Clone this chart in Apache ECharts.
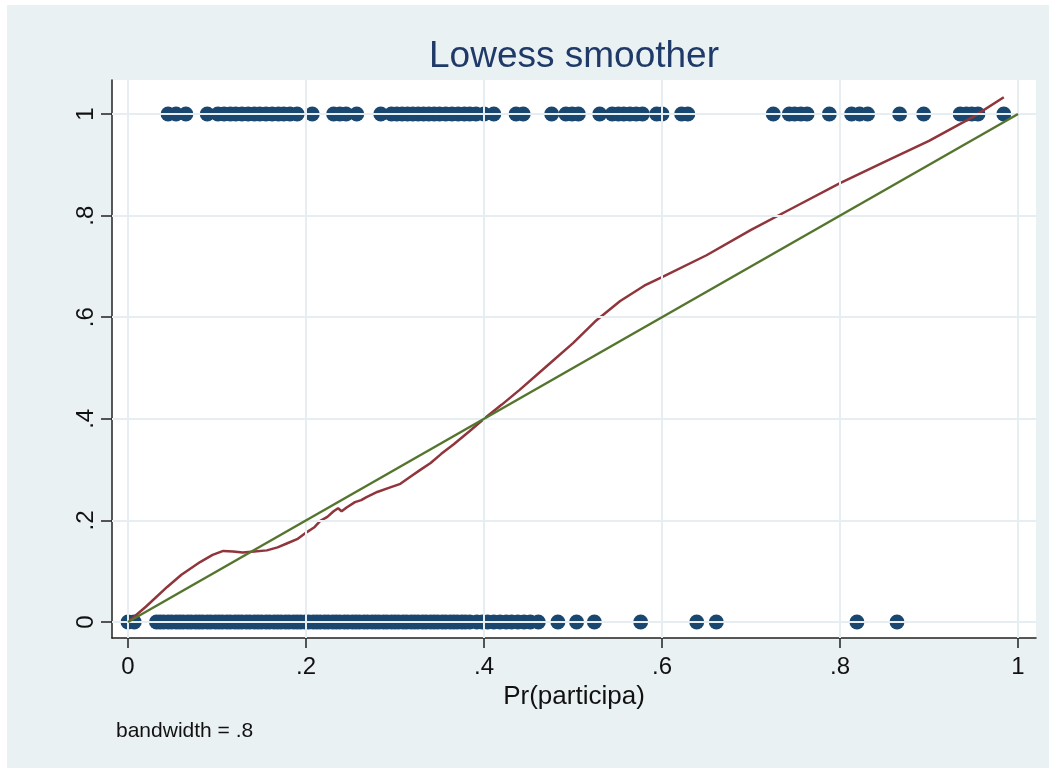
<!DOCTYPE html>
<html>
<head>
<meta charset="utf-8">
<script src="https://cdn.jsdelivr.net/npm/echarts@6/dist/echarts.min.js"></script>
<style>
html,body{margin:0;padding:0;background:#ffffff;}
#chart{width:1049px;height:770px;}
</style>
</head>
<body>
<div id="chart"></div>
<script>
// ---- data ----
var tickValues = [0, 0.2, 0.4, 0.6, 0.8, 1];
var xTickLabels = ['0', '.2', '.4', '.6', '.8', '1'];
var yTickLabels = ['0', '.2', '.4', '.6', '.8', '1'];

// observed outcome = 1 : predicted probabilities
var xAtOne = [0.045, 0.054, 0.065, 0.089, 0.101, 0.108, 0.115, 0.121, 0.128, 0.135, 0.142, 0.148,
  0.155, 0.162, 0.169, 0.175, 0.182, 0.190, 0.207, 0.231, 0.238, 0.245, 0.257, 0.284, 0.296,
  0.302, 0.308, 0.314, 0.320, 0.326, 0.332, 0.338, 0.344, 0.350, 0.357, 0.364, 0.371, 0.378,
  0.384, 0.391, 0.400, 0.411, 0.436, 0.444, 0.476, 0.492, 0.499, 0.506, 0.530, 0.544, 0.551,
  0.557, 0.564, 0.571, 0.578, 0.594, 0.600, 0.622, 0.629, 0.725, 0.743, 0.749, 0.756, 0.763,
  0.788, 0.813, 0.822, 0.831, 0.867, 0.894, 0.935, 0.942, 0.948, 0.955, 0.984];

// observed outcome = 0 : predicted probabilities
var xAtZero = [0, 0.007, 0.032, 0.036, 0.040, 0.045, 0.049, 0.054, 0.058, 0.062, 0.067, 0.071,
  0.076, 0.080, 0.084, 0.089, 0.093, 0.098, 0.102, 0.106, 0.111, 0.115, 0.120, 0.124, 0.128,
  0.133, 0.137, 0.142, 0.146, 0.150, 0.155, 0.159, 0.164, 0.168, 0.172, 0.177, 0.181, 0.186,
  0.190, 0.194, 0.199, 0.203, 0.208, 0.212, 0.216, 0.221, 0.225, 0.230, 0.234, 0.238, 0.243,
  0.247, 0.252, 0.256, 0.260, 0.265, 0.269, 0.274, 0.278, 0.282, 0.287, 0.291, 0.296, 0.300,
  0.304, 0.309, 0.313, 0.318, 0.322, 0.326, 0.331, 0.335, 0.340, 0.344, 0.348, 0.353, 0.357,
  0.362, 0.366, 0.370, 0.375, 0.379, 0.384, 0.392, 0.398, 0.404, 0.411, 0.418, 0.425, 0.431,
  0.438, 0.445, 0.452, 0.461, 0.483, 0.504, 0.524, 0.576, 0.639, 0.661, 0.819, 0.864];

// lowess smoother (bandwidth .8)
var lowessX = [0, 0.02, 0.044, 0.06, 0.081, 0.095, 0.107, 0.118, 0.129, 0.142, 0.156, 0.168,
  0.179, 0.19, 0.201, 0.209, 0.216, 0.224, 0.231, 0.236, 0.24, 0.246, 0.255, 0.262, 0.268, 0.28,
  0.293, 0.306, 0.318, 0.328, 0.34, 0.352, 0.366, 0.384, 0.4, 0.42, 0.44, 0.47, 0.5, 0.525,
  0.553, 0.58, 0.6, 0.65, 0.7, 0.75, 0.8, 0.85, 0.9, 0.95, 0.984];
var lowessY = [0, 0.03, 0.069, 0.093, 0.118, 0.132, 0.140, 0.139, 0.137, 0.139, 0.141, 0.147,
  0.155, 0.163, 0.177, 0.186, 0.199, 0.207, 0.218, 0.224, 0.218, 0.226, 0.236, 0.240, 0.246,
  0.256, 0.264, 0.272, 0.287, 0.299, 0.313, 0.331, 0.350, 0.376, 0.400, 0.428, 0.457, 0.503,
  0.549, 0.592, 0.632, 0.662, 0.679, 0.722, 0.772, 0.818, 0.864, 0.906, 0.947, 0.995, 1.033];

// reference line y = x
var diagX = [0, 1];
var diagY = [0, 1];

// ---- chart ----
var ptsOne = xAtOne.map(function (v) { return [v, 1]; });
var ptsZero = xAtZero.map(function (v) { return [v, 0]; });
var lowessPts = lowessX.map(function (v, i) { return [v, lowessY[i]]; });
var diagPts = diagX.map(function (v, i) { return [v, diagY[i]]; });

function labelFor(list) {
  return function (v) {
    for (var i = 0; i < tickValues.length; i++) {
      if (Math.abs(v - tickValues[i]) < 1e-6) return list[i];
    }
    return '';
  };
}

var gridColor = '#e6eef2';
var axisColor = '#222222';
var font = '"Liberation Sans", Arial, sans-serif';

var chart = echarts.init(document.getElementById('chart'), null, { renderer: 'canvas' });
chart.setOption({
  animation: false,
  backgroundColor: '#ffffff',
  graphic: [{
    type: 'rect', z: -100, silent: true,
    shape: { x: 7, y: 5, width: 1042, height: 763 },
    style: { fill: '#eaf1f3' }
  }, {
    type: 'text', left: 116, top: 721, silent: true,
    style: { text: 'bandwidth = .8', fill: '#111111', font: '21px ' + font }
  }, {
    type: 'text', x: 574, y: 38, silent: true,
    style: { text: 'Lowess smoother', fill: '#1f3a68', font: '37px ' + font, textAlign: 'center', textVerticalAlign: 'top' }
  }],
  grid: {
    left: 112, right: 13, top: 80, bottom: 132,
    show: true, backgroundColor: '#ffffff', borderWidth: 0
  },
  xAxis: {
    type: 'value', min: -0.018, max: 1.0202,
    name: 'Pr(participa)', nameLocation: 'middle', nameGap: 45,
    nameTextStyle: { color: '#111111', fontSize: 26, fontFamily: font },
    axisLine: { show: true, onZero: false, lineStyle: { color: axisColor, width: 1.5 } },
    axisTick: { show: true, length: 10, customValues: tickValues, lineStyle: { color: axisColor, width: 1.5 } },
    axisLabel: { show: true, margin: 17, customValues: tickValues, formatter: labelFor(xTickLabels),
      color: '#111111', fontSize: 24, fontFamily: font },
    splitLine: { show: false }
  },
  yAxis: {
    type: 'value', min: -0.0315, max: 1.067,
    axisLine: { show: true, onZero: false, lineStyle: { color: axisColor, width: 1.5 } },
    axisTick: { show: true, length: 11, customValues: tickValues, lineStyle: { color: axisColor, width: 1.5 } },
    axisLabel: { show: true, margin: 14, rotate: 90, customValues: tickValues, formatter: labelFor(yTickLabels),
      color: '#111111', fontSize: 24, fontFamily: font },
    splitLine: { show: false }
  },
  series: [{
    type: 'line', data: [], z: 1, silent: true,
    markLine: {
      silent: true, symbol: ['none', 'none'], label: { show: false },
      lineStyle: { color: gridColor, width: 2, type: 'solid' },
      data: tickValues.map(function (v) { return { xAxis: v }; })
        .concat(tickValues.map(function (v) { return { yAxis: v }; }))
    }
  }, {
    type: 'scatter', data: ptsOne.concat(ptsZero), symbol: 'circle', symbolSize: 15,
    itemStyle: { color: '#1a476f', opacity: 1 }, z: 3
  }, {
    type: 'line', data: lowessPts, showSymbol: false, smooth: false,
    lineStyle: { color: '#90353b', width: 2.5 }, z: 4
  }, {
    type: 'line', data: diagPts, showSymbol: false,
    lineStyle: { color: '#55752f', width: 2.5 }, z: 5
  }]
});
</script>
</body>
</html>
